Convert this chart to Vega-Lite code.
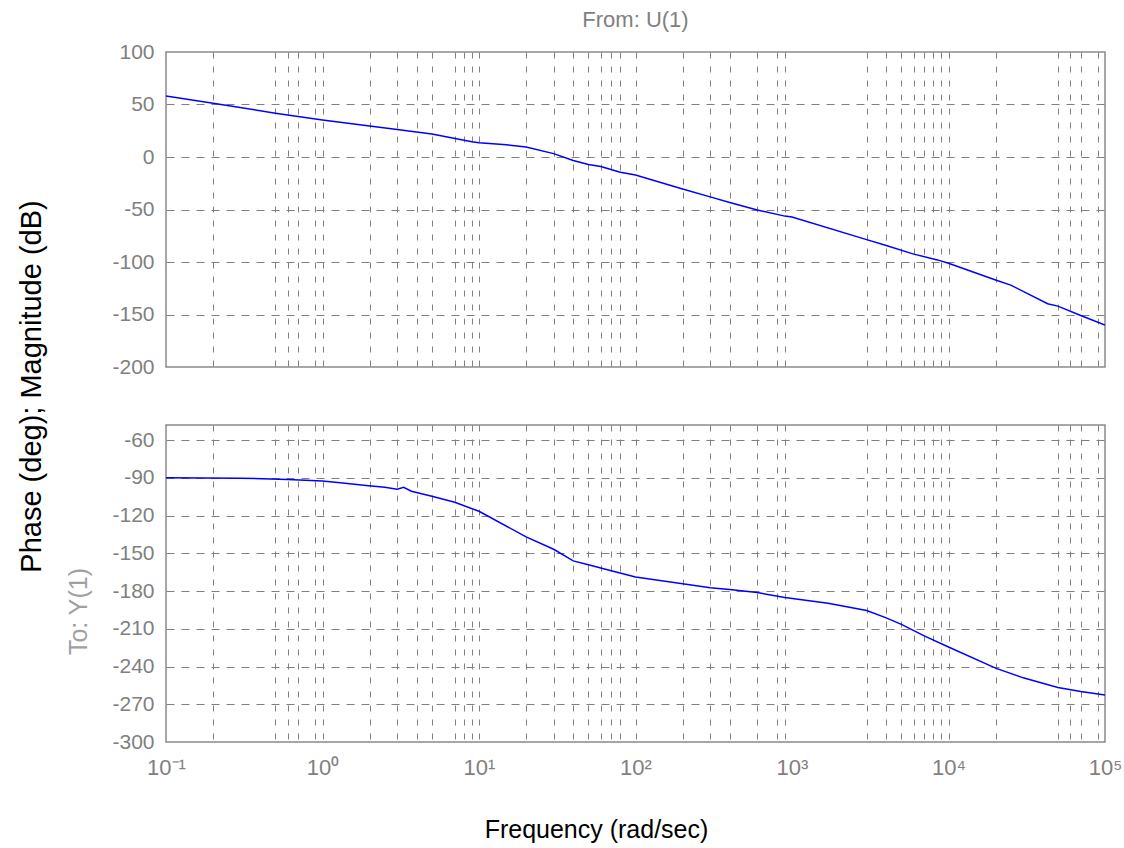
{
  "$schema": "https://vega.github.io/schema/vega-lite/v6.json",
  "background": "white",
  "padding": {"left": 16, "top": 8, "right": 0, "bottom": 5},
  "config": {
    "view": {"stroke": "#8a8a8a", "strokeWidth": 1.5},
    "font": "Liberation Sans",
    "axis": {"domain": false, "ticks": false, "labelFont": "Liberation Sans", "titleFont": "Liberation Sans", "titleFontWeight": "normal"}
  },
  "datasets": {
    "mag": [
      {"f": 0.1, "db": 58.0}, {"f": 0.2, "db": 51.3}, {"f": 0.5, "db": 41.7}, {"f": 1, "db": 35.3},
      {"f": 2, "db": 29.5}, {"f": 3, "db": 26.3}, {"f": 5, "db": 21.8}, {"f": 9, "db": 14.5},
      {"f": 10, "db": 13.6}, {"f": 15, "db": 11.6}, {"f": 20, "db": 9.6}, {"f": 30, "db": 3.2}, {"f": 40, "db": -3.3},
      {"f": 50, "db": -7.1}, {"f": 60, "db": -9.1}, {"f": 80, "db": -14.5}, {"f": 100, "db": -17.1},
      {"f": 200, "db": -30.5}, {"f": 300, "db": -38.0}, {"f": 400, "db": -43.4}, {"f": 600, "db": -50.5},
      {"f": 900, "db": -56.3}, {"f": 1000, "db": -57.2}, {"f": 3000, "db": -78.7}, {"f": 4000, "db": -84.2},
      {"f": 6000, "db": -92.5}, {"f": 8500, "db": -98.0}, {"f": 10000, "db": -101.2}, {"f": 20000, "db": -117.2},
      {"f": 25000, "db": -122.0}, {"f": 43000, "db": -139.7}, {"f": 50000, "db": -142.0}, {"f": 70000, "db": -151.0},
      {"f": 100000, "db": -160.0}
    ],
    "phase": [
      {"f": 0.1, "deg": -90.0}, {"f": 0.3, "deg": -90.3}, {"f": 0.6, "deg": -91.3}, {"f": 1.0, "deg": -92.5},
      {"f": 1.3, "deg": -94.0}, {"f": 1.9, "deg": -96.0}, {"f": 2.5, "deg": -97.4}, {"f": 3.0, "deg": -99.0},
      {"f": 3.3, "deg": -97.6}, {"f": 3.7, "deg": -100.6}, {"f": 5, "deg": -104.6}, {"f": 7, "deg": -109.4},
      {"f": 10, "deg": -116.6}, {"f": 20, "deg": -136.9}, {"f": 30, "deg": -146.8}, {"f": 40, "deg": -156.0},
      {"f": 50, "deg": -159.1}, {"f": 70, "deg": -163.8}, {"f": 100, "deg": -168.9}, {"f": 200, "deg": -174.2},
      {"f": 300, "deg": -177.3}, {"f": 400, "deg": -178.7}, {"f": 600, "deg": -181.2}, {"f": 900, "deg": -185.1},
      {"f": 1700, "deg": -189.7}, {"f": 3000, "deg": -195.5}, {"f": 4000, "deg": -201.3}, {"f": 5000, "deg": -206.5},
      {"f": 7000, "deg": -215.6}, {"f": 10000, "deg": -224.5}, {"f": 20000, "deg": -241.3}, {"f": 30000, "deg": -249.0},
      {"f": 50000, "deg": -256.6}, {"f": 70000, "deg": -259.8}, {"f": 100000, "deg": -262.6}
    ]
  },
  "bounds": "flush",
  "spacing": 58,
  "vconcat": [
    {
      "width": 939,
      "height": 315,
      "title": {"text": "From: U(1)", "color": "#808080", "fontSize": 22, "fontWeight": "normal", "font": "Liberation Sans", "offset": 9},
      "data": {"name": "mag"},
      "mark": {"type": "line", "color": "#0000ff", "strokeWidth": 1.5, "clip": true},
      "encoding": {
        "x": {
          "field": "f", "type": "quantitative",
          "scale": {"type": "log", "domain": [0.1, 100000], "nice": false},
          "axis": {
            "title": null, "labels": false, "grid": true,
            "values": [0.2, 0.5, 0.6, 0.7, 0.9, 1, 2, 3, 4, 5, 7, 8, 9, 10, 20, 30, 40, 50, 60, 70, 80, 100, 200, 300, 400, 600, 800, 900, 3000, 4000, 5000, 6000, 7000, 8000, 9000, 10000, 20000, 50000, 60000, 70000, 90000],
            "gridColor": "#808080", "gridDash": [6, 8], "gridWidth": 1
          }
        },
        "y": {
          "field": "db", "type": "quantitative",
          "scale": {"domain": [-200, 100], "nice": false},
          "axis": {
            "values": [100, 50, 0, -50, -100, -150, -200],
            "labelExpr": "'' + datum.value",
            "labelColor": "#808080", "labelFontSize": 21, "labelPadding": 12,
            "grid": true, "gridColor": "#808080", "gridDash": [8, 7],
            "gridOpacity": {"condition": {"test": "datum.value == 100 || datum.value == -200", "value": 0}, "value": 1},
            "title": "Phase (deg); Magnitude (dB)",
            "titleFontSize": 29, "titleColor": "#000000", "titleAngle": 270,
            "titleAlign": "center", "titleBaseline": "middle", "titleX": -135, "titleY": 334
          }
        }
      }
    },
    {
      "width": 939,
      "height": 317,
      "data": {"name": "phase"},
      "mark": {"type": "line", "color": "#0000ff", "strokeWidth": 1.5, "clip": true},
      "encoding": {
        "x": {
          "field": "f", "type": "quantitative",
          "scale": {"type": "log", "domain": [0.1, 100000], "nice": false},
          "axis": {
            "grid": true,
            "values": [0.1, 0.2, 0.5, 0.6, 0.7, 0.9, 1, 2, 3, 4, 5, 7, 8, 9, 10, 20, 30, 40, 50, 60, 70, 80, 100, 200, 300, 400, 600, 800, 900, 1000, 3000, 4000, 5000, 6000, 7000, 8000, 9000, 10000, 20000, 50000, 60000, 70000, 90000, 100000],
            "gridColor": "#808080", "gridDash": [6, 8], "gridWidth": 1,
            "gridOpacity": {"condition": {"test": "datum.value == 0.1 || datum.value == 1000 || datum.value == 100000", "value": 0}, "value": 1},
            "labelExpr": "datum.value == 0.1 ? '10⁻¹' : datum.value == 1 ? '10⁰' : datum.value == 10 ? '10¹' : datum.value == 100 ? '10²' : datum.value == 1000 ? '10³' : datum.value == 10000 ? '10⁴' : datum.value == 100000 ? '10⁵' : ''",
            "labelOverlap": false, "labelFlush": false,
            "labelColor": "#808080", "labelFontSize": 22, "labelPadding": 15,
            "title": "Frequency (rad/sec)", "titleFontSize": 25, "titleColor": "#000000", "titlePadding": 39,
            "titleX": 430, "titleAlign": "center"
          }
        },
        "y": {
          "field": "deg", "type": "quantitative",
          "scale": {"domain": [-300, -48], "nice": false},
          "axis": {
            "values": [-60, -90, -120, -150, -180, -210, -240, -270, -300],
            "labelExpr": "'' + datum.value",
            "labelColor": "#808080", "labelFontSize": 21, "labelPadding": 12,
            "grid": true, "gridColor": "#808080", "gridDash": [8, 7],
            "gridOpacity": {"condition": {"test": "datum.value == -300", "value": 0}, "value": 1},
            "title": "To: Y(1)",
            "titleFontSize": 25, "titleColor": "#a0a0a0", "titleAngle": 270,
            "titleAlign": "center", "titleBaseline": "middle", "titleX": -88, "titleY": 186
          }
        }
      }
    }
  ]
}
